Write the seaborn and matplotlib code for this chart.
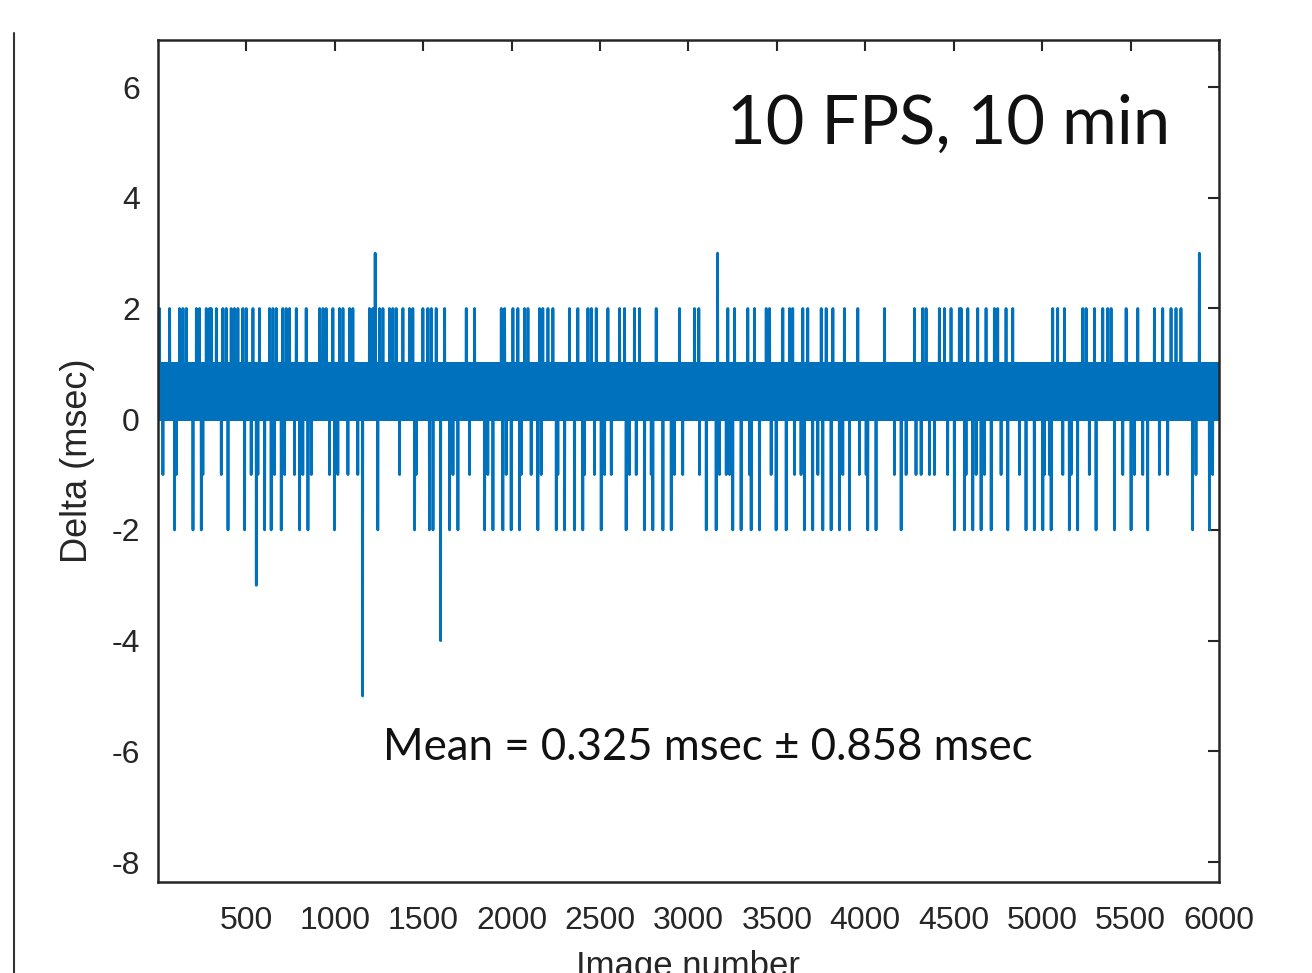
import numpy as np
import pandas as pd
import matplotlib
matplotlib.use("Agg")
import matplotlib.pyplot as plt
from matplotlib.lines import Line2D
import seaborn as sns

# Frame-interval deltas, 10 FPS over 10 min (6000 images)
n_images = 6000
band_cycle = [0, 1]  # the solid band: values flip between 0 and 1 msec

# spike positions (image number)
up2_at = [10, 67, 123, 142, 161, 218, 236, 274, 293, 302, 331, 368, 387, 415, 434, 453,
          481, 500, 538, 557, 575, 632, 651, 670, 707, 726, 745, 783, 839, 915, 934, 952,
          990, 1028, 1047, 1084, 1103, 1197, 1216, 1254, 1273, 1310, 1329, 1348, 1386,
          1423, 1442, 1499, 1527, 1546, 1574, 1622, 1744, 1763, 1791, 1866, 1942, 1961,
          2008, 2036, 2074, 2093, 2158, 2177, 2206, 2234, 2328, 2375, 2432, 2451, 2479,
          2545, 2611, 2639, 2695, 2724, 2818, 2950, 3034, 3059, 3223, 3261, 3336, 3374,
          3440, 3459, 3534, 3572, 3590, 3647, 3675, 3751, 3779, 3817, 3882, 3958, 4109,
          4278, 4325, 4344, 4419, 4448, 4485, 4532, 4542, 4580, 4636, 4683, 4730, 4749,
          4796, 4834, 5060, 5088, 5126, 5230, 5249, 5296, 5343, 5371, 5390, 5475, 5541,
          5635, 5682, 5729, 5757, 5785]
up3_at = [1229, 3165, 5889]

down1_at = [29, 105, 255, 359, 528, 566, 660, 717, 773, 820, 868, 971, 1018, 1075, 1131,
            1367, 1461, 1669, 1763, 1866, 1970, 2055, 2111, 2168, 2262, 2413, 2469, 2526,
            2564, 2667, 2705, 2790, 2921, 2968, 3063, 3176, 3214, 3233, 3345, 3468, 3600,
            3637, 3732, 3873, 3967, 4005, 4165, 4231, 4287, 4316, 4363, 4391, 4466, 4570,
            4627, 4674, 4768, 4872, 5013, 5041, 5117, 5164, 5267, 5456, 5522, 5569, 5663,
            5710, 5870, 5964]
down2_at = [95, 199, 246, 397, 491, 604, 641, 698, 802, 849, 999, 1244, 1452, 1536, 1556,
            1650, 1697, 1848, 1895, 1951, 1998, 2045, 2149, 2253, 2300, 2356, 2403, 2507,
            2648, 2752, 2799, 2856, 2903, 3101, 3157, 3251, 3298, 3355, 3402, 3496, 3553,
            3656, 3703, 3760, 3807, 3854, 3911, 4014, 4061, 4203, 4504, 4561, 4608, 4655,
            4712, 4806, 4909, 4956, 5004, 5051, 5154, 5201, 5305, 5409, 5503, 5597, 5851,
            5946]
deep_at = [557, 1158, 1599]
deep_val = [-3, -5, -4]

x_ticks = [500, 1000, 1500, 2000, 2500, 3000, 3500, 4000, 4500, 5000, 5500, 6000]
y_ticks = [-8, -6, -4, -2, 0, 2, 4, 6]

# build the series
image = np.arange(1, n_images + 1)
delta = np.resize(np.array(band_cycle, dtype=float), n_images)
for pos_list, val in [(up2_at, 2), (up3_at, 3), (down1_at, -1), (down2_at, -2)]:
    delta[np.array(pos_list) - 1] = val
delta[np.array(deep_at) - 1] = deep_val
df = pd.DataFrame({"Image number": image, "Delta (msec)": delta})

sns.set_theme(style="white")
plt.rcParams["font.family"] = ["Liberation Sans", "DejaVu Sans"]
ink = "#262626"

fig = plt.figure(figsize=(13.12, 9.73), dpi=100)
ax = fig.add_axes([0.1204, 0.0935, 0.8087, 0.8654])

sns.lineplot(data=df, x="Image number", y="Delta (msec)", ax=ax, color="#0072BD",
             linewidth=2.0, estimator=None, sort=False)

ax.set_xlim(1, 6000)
ax.set_ylim(-8.36, 6.85)
ax.set_xticks(x_ticks)
ax.set_yticks(y_ticks)
ax.set_xticklabels([str(t) for t in x_ticks])
ax.set_yticklabels([str(t) for t in y_ticks])
ax.tick_params(direction="in", length=8, width=1.5, colors=ink, labelsize=23,
               top=True, right=True, pad=13)
ax.tick_params(axis="x", pad=17)
for sp in ax.spines.values():
    sp.set_visible(True)
    sp.set_color(ink)
    sp.set_linewidth(1.8)

ax.set_xlabel("Image number", fontsize=25, color=ink, labelpad=10)
ax.set_ylabel("Delta (msec)", fontsize=26, color=ink, labelpad=12)

ax.text(0.536, 0.899, "10 FPS, 10 min", transform=ax.transAxes, fontsize=48,
        family="Lato", color="#111111", va="center", ha="left")
ax.text(0.212, 0.160, "Mean = 0.325 msec \u00b1 0.858 msec", transform=ax.transAxes,
        fontsize=31.5, family="Lato", color="#111111", va="center", ha="left")

# slide border on the left of the original
fig.add_artist(Line2D([0.0107, 0.0107], [0.0, 0.966], color="#333333", linewidth=1.5))

fig.savefig("out.png", dpi=100)
